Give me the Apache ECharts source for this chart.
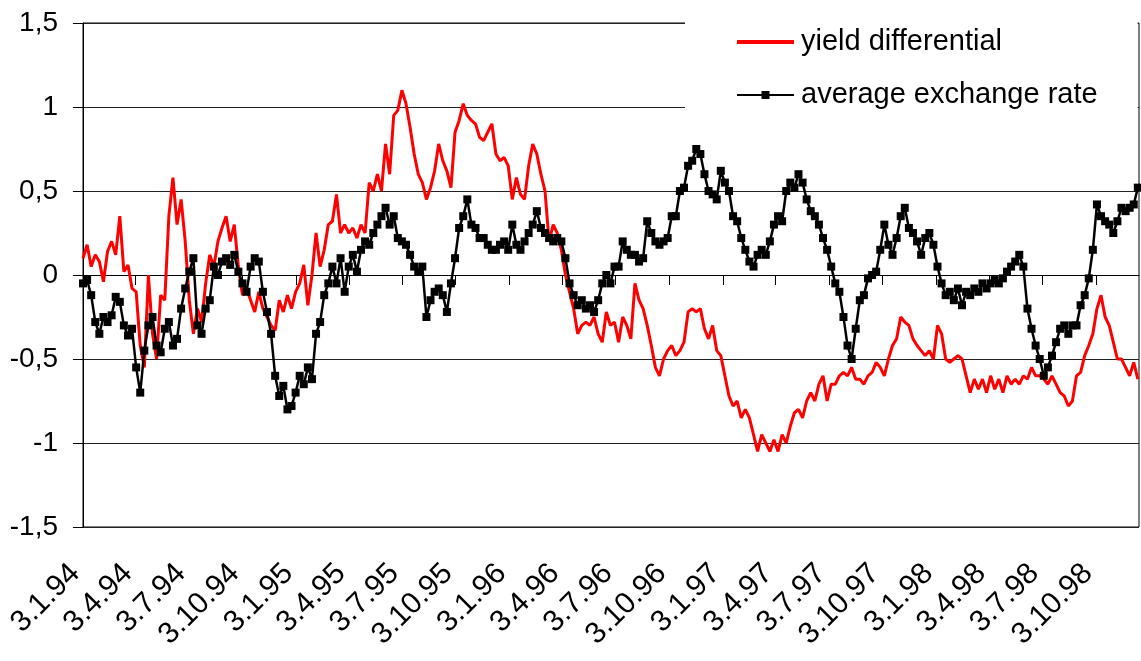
<!DOCTYPE html>
<html>
<head>
<meta charset="utf-8">
<script src="https://cdn.jsdelivr.net/npm/echarts@6.0.0/dist/echarts.min.js"></script>
<style>
html,body{margin:0;padding:0;background:#fff;}
#chart{width:1141px;height:661px;}
</style>
</head>
<body>
<div id="chart"></div>
<script>
// Tick labels (dates d.m.yy) on the x axis
const tickLabels = ['3.1.94','3.4.94','3.7.94','3.10.94','3.1.95','3.4.95','3.7.95','3.10.95','3.1.96','3.4.96','3.7.96','3.10.96','3.1.97','3.4.97','3.7.97','3.10.97','3.1.98','3.4.98','3.7.98','3.10.98'];
// Series values, one reading per week starting 3.1.94
const STEP_DAYS = 7;
const yieldDifferential = [
0.10,0.18,0.05,0.12,0.08,-0.04,0.14,0.20,0.12,0.35,
0.02,0.06,-0.08,-0.10,-0.42,-0.55,0.00,-0.35,-0.50,-0.12,
-0.15,0.35,0.58,0.30,0.45,0.20,-0.15,-0.35,-0.20,-0.28,
-0.05,0.12,0.05,0.20,0.28,0.35,0.20,0.30,0.05,-0.12,
-0.08,-0.15,-0.22,-0.10,-0.20,-0.25,-0.30,-0.33,-0.15,-0.22,
-0.12,-0.20,-0.10,-0.05,0.06,-0.18,0.00,0.25,0.05,0.15,
0.30,0.32,0.48,0.25,0.30,0.25,0.28,0.22,0.30,0.25,
0.55,0.50,0.60,0.50,0.78,0.60,0.95,0.98,1.10,1.02,
0.88,0.72,0.60,0.55,0.45,0.52,0.62,0.78,0.68,0.62,
0.52,0.85,0.92,1.02,0.95,0.92,0.90,0.82,0.80,0.85,
0.90,0.72,0.68,0.70,0.65,0.45,0.58,0.48,0.45,0.65,
0.78,0.72,0.60,0.50,0.20,0.30,0.25,0.15,0.00,-0.10,
-0.20,-0.35,-0.30,-0.28,-0.30,-0.25,-0.35,-0.40,-0.22,-0.30,
-0.28,-0.40,-0.25,-0.30,-0.38,-0.05,-0.15,-0.20,-0.30,-0.42,
-0.55,-0.60,-0.50,-0.45,-0.42,-0.48,-0.45,-0.40,-0.22,-0.20,
-0.22,-0.20,-0.32,-0.38,-0.30,-0.45,-0.48,-0.60,-0.72,-0.78,
-0.75,-0.85,-0.80,-0.85,-0.95,-1.05,-0.95,-1.00,-1.05,-0.98,
-1.05,-0.95,-1.00,-0.90,-0.82,-0.80,-0.85,-0.75,-0.70,-0.75,
-0.65,-0.60,-0.75,-0.65,-0.65,-0.60,-0.58,-0.60,-0.55,-0.62,
-0.62,-0.65,-0.60,-0.58,-0.52,-0.55,-0.60,-0.50,-0.42,-0.38,
-0.25,-0.28,-0.30,-0.38,-0.42,-0.45,-0.48,-0.45,-0.50,-0.30,
-0.35,-0.50,-0.52,-0.50,-0.48,-0.50,-0.60,-0.70,-0.62,-0.68,
-0.62,-0.70,-0.60,-0.68,-0.62,-0.70,-0.60,-0.65,-0.62,-0.65,
-0.60,-0.62,-0.55,-0.60,-0.60,-0.62,-0.65,-0.60,-0.65,-0.70,
-0.72,-0.78,-0.75,-0.60,-0.58,-0.48,-0.42,-0.35,-0.20,-0.12,
-0.25,-0.30,-0.40,-0.50,-0.50,-0.55,-0.60,-0.52,-0.62
];
const averageExchangeRate = [
-0.05,-0.03,-0.12,-0.28,-0.35,-0.25,-0.28,-0.24,-0.13,-0.16,
-0.30,-0.36,-0.32,-0.55,-0.70,-0.45,-0.30,-0.25,-0.42,-0.46,
-0.32,-0.28,-0.42,-0.38,-0.20,-0.08,0.02,0.10,-0.30,-0.35,
-0.20,-0.15,0.05,0.00,0.08,0.10,0.06,0.12,0.02,-0.05,
-0.10,0.05,0.10,0.08,-0.10,-0.22,-0.35,-0.60,-0.72,-0.66,
-0.80,-0.78,-0.70,-0.60,-0.65,-0.55,-0.62,-0.35,-0.28,-0.12,
-0.05,0.05,-0.05,0.10,-0.10,0.05,0.12,0.02,0.15,0.20,
0.18,0.25,0.30,0.35,0.40,0.30,0.35,0.22,0.20,0.18,
0.12,0.05,0.02,0.05,-0.25,-0.15,-0.10,-0.08,-0.12,-0.22,
-0.05,0.10,0.28,0.35,0.45,0.30,0.28,0.22,0.22,0.18,
0.15,0.15,0.18,0.20,0.15,0.30,0.18,0.15,0.20,0.25,
0.30,0.38,0.28,0.25,0.22,0.20,0.22,0.20,0.10,-0.05,
-0.12,-0.18,-0.15,-0.20,-0.18,-0.22,-0.15,-0.05,0.00,-0.05,
0.05,0.05,0.20,0.15,0.12,0.12,0.08,0.10,0.32,0.25,
0.20,0.18,0.20,0.22,0.35,0.35,0.50,0.52,0.65,0.68,
0.75,0.72,0.60,0.50,0.48,0.45,0.62,0.55,0.50,0.35,
0.32,0.22,0.15,0.08,0.05,0.12,0.15,0.12,0.20,0.30,
0.35,0.32,0.50,0.55,0.52,0.60,0.55,0.45,0.38,0.35,
0.30,0.22,0.15,0.05,-0.05,-0.10,-0.25,-0.42,-0.50,-0.32,
-0.15,-0.12,-0.02,0.00,0.02,0.15,0.30,0.18,0.12,0.22,
0.35,0.40,0.28,0.25,0.20,0.12,0.22,0.25,0.18,0.05,
-0.05,-0.12,-0.10,-0.15,-0.08,-0.18,-0.10,-0.12,-0.08,-0.10,
-0.05,-0.08,-0.05,-0.03,-0.05,-0.02,0.02,0.05,0.08,0.12,
0.05,-0.20,-0.32,-0.42,-0.50,-0.60,-0.55,-0.48,-0.40,-0.32,
-0.30,-0.35,-0.30,-0.30,-0.18,-0.12,-0.02,0.15,0.42,0.35,
0.32,0.30,0.25,0.32,0.40,0.38,0.40,0.42,0.52
];
const seriesNames = ['yield differential', 'average exchange rate'];

const FONT = "'Liberation Sans', Arial, sans-serif";
const BASE = Date.UTC(1994, 0, 3);
function dayOf(label) {
  const p = label.split('.').map(Number);
  return Math.round((Date.UTC(1900 + p[2], p[1] - 1, p[0]) - BASE) / 86400000);
}
const tickDays = tickLabels.map(dayOf);
const labelByDay = {};
tickDays.forEach((d, i) => { labelByDay[d] = tickLabels[i]; });
const pairs = arr => arr.map((v, i) => [i * STEP_DAYS, v]);

const chart = echarts.init(document.getElementById('chart'), null, {renderer: 'canvas'});
chart.setOption({
  animation: false,
  backgroundColor: '#fff',
  grid: {left: 83, right: 2, top: 23, bottom: 134, show: true, borderColor: '#000', borderWidth: 1, backgroundColor: 'transparent'},
  legend: {
    orient: 'vertical', left: 685, top: 0,
    itemWidth: 57, itemHeight: 10, itemGap: 23,
    padding: [27, 40, 10, 50],
    backgroundColor: '#fff',
    textStyle: {fontSize: 29, fontFamily: FONT, color: '#000', lineHeight: 30, padding: [0, 0, 0, 2]},
    data: [
      {name: seriesNames[0], itemStyle: {opacity: 0}, lineStyle: {width: 4}},
      {name: seriesNames[1]}
    ]
  },
  xAxis: {
    type: 'value', min: 0, max: 1808,
    axisLine: {show: true, lineStyle: {color: '#000', width: 1}},
    axisTick: {show: true, length: 10, customValues: tickDays, lineStyle: {color: '#000'}},
    axisLabel: {
      customValues: tickDays, rotate: 45, margin: 34,
      fontSize: 30, fontFamily: FONT, color: '#000', padding: [0, 11, 0, 0],
      formatter: v => labelByDay[v] || ''
    },
    splitLine: {show: false}
  },
  yAxis: {
    type: 'value', min: -1.5, max: 1.5, interval: 0.5,
    axisLine: {show: true, lineStyle: {color: '#000', width: 1}},
    axisTick: {show: true, length: 10, lineStyle: {color: '#000'}},
    axisLabel: {fontSize: 28, fontFamily: FONT, color: '#000', margin: 25,
      formatter: v => String(v).replace('.', ',')},
    splitLine: {show: true, lineStyle: {color: '#222', width: 1}}
  },
  series: [
    {
      name: seriesNames[0], type: 'line', data: pairs(yieldDifferential),
      symbol: 'none', lineStyle: {color: '#ff0000', width: 3}, itemStyle: {color: '#ff0000'}
    },
    {
      name: seriesNames[1], type: 'line', data: pairs(averageExchangeRate),
      symbol: 'rect', symbolSize: 8, showAllSymbol: true,
      lineStyle: {color: '#000', width: 2.5}, itemStyle: {color: '#000'}
    }
  ]
});
</script>
</body>
</html>
